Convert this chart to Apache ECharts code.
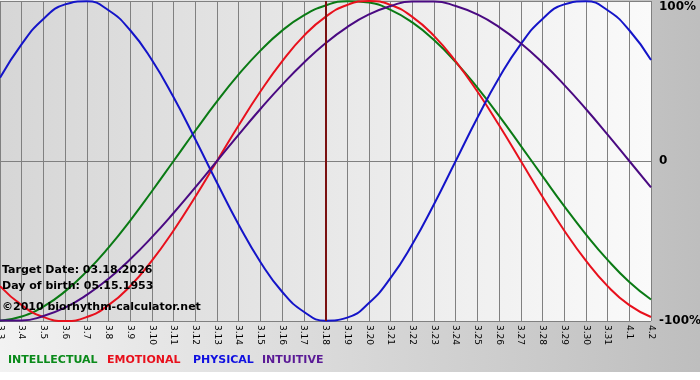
<!DOCTYPE html>
<html>
<head>
<meta charset="utf-8">
<script src="https://cdn.jsdelivr.net/npm/echarts@6/dist/echarts.min.js"></script>
<style>
  html, body { margin: 0; padding: 0; }
  #chart { width: 700px; height: 380px; }
</style>
</head>
<body>
<div id="chart"></div>
<script>
// days shown on the x axis
var days = ['3.3','3.4','3.5','3.6','3.7','3.8','3.9','3.10','3.11','3.12','3.13','3.14','3.15','3.16','3.17','3.18',
    '3.19','3.20','3.21','3.22','3.23','3.24','3.25','3.26','3.27','3.28','3.29','3.30','3.31','4.1','4.2'];

// values, -1 .. 1
var intellectual = [-0.999,-0.972,-0.910,-0.815,-0.690,-0.541,-0.372,-0.189,0.000,0.189,0.372,0.541,0.690,0.815,0.910,0.972,
    0.999,0.990,0.945,0.866,0.756,0.618,0.458,0.282,0.095,-0.095,-0.282,-0.458,-0.618,-0.756,-0.866];
var emotional = [-0.782,-0.901,-0.975,-1.000,-0.975,-0.901,-0.782,-0.623,-0.434,-0.223,0.000,0.223,0.434,0.623,0.782,0.901,
    0.975,1.000,0.975,0.901,0.782,0.623,0.434,0.223,0.000,-0.223,-0.434,-0.623,-0.782,-0.901,-0.975];
var physical = [0.520,0.731,0.888,0.979,0.998,0.942,0.817,0.631,0.398,0.136,-0.136,-0.398,-0.631,-0.817,-0.942,-0.998,
    -0.979,-0.888,-0.731,-0.520,-0.270,0.000,0.270,0.520,0.731,0.888,0.979,0.998,0.942,0.817,0.631];
var intuitive = [-0.997,-0.997,-0.969,-0.916,-0.837,-0.736,-0.614,-0.476,-0.325,-0.165,0.000,0.165,0.325,0.476,0.614,0.736,
    0.837,0.916,0.969,0.997,0.997,0.969,0.916,0.837,0.736,0.614,0.476,0.325,0.165,0.000,-0.165];

var targetDay = '3.18';

var names = ['INTELLECTUAL', 'EMOTIONAL', 'PHYSICAL', 'INTUITIVE'];
var colors = ['#0a7a14', '#e8101c', '#1414c8', '#4a0a82'];
var legendColors = ['#0a8a1a', '#e8101c', '#1010e0', '#5a1a96'];

var font = '"DejaVu Sans", Verdana, sans-serif';

var chart = echarts.init(document.getElementById('chart'));

function lineSeries(i, values) {
    return {
        name: names[i],
        type: 'line',
        data: values,
        smooth: true,
        symbol: 'none',
        silent: true,
        z: 3,
        lineStyle: { color: colors[i], width: 2 }
    };
}

var series = [
    lineSeries(0, intellectual),
    lineSeries(1, emotional),
    lineSeries(2, physical),
    lineSeries(3, intuitive)
];

// target date marker
series[0].markLine = {
    silent: true,
    symbol: 'none',
    label: { show: false },
    lineStyle: { color: '#7a1010', width: 2, type: 'solid' },
    data: [{ xAxis: targetDay }]
};

var option = {
    animation: false,
    backgroundColor: new echarts.graphic.LinearGradient(0, 0, 1, 0, [
        { offset: 0, color: '#f2f2f2' },
        { offset: 1, color: '#bebebe' }
    ]),
    grid: {
        left: 0,
        right: 49,
        top: 1,
        bottom: 59,
        containLabel: false,
        outerBoundsMode: 'none',
        show: true,
        borderWidth: 0,
        backgroundColor: new echarts.graphic.LinearGradient(0, 0, 1, 0, [
            { offset: 0, color: '#d6d6d6' },
            { offset: 1, color: '#fafafa' }
        ])
    },
    xAxis: {
        type: 'category',
        data: days,
        boundaryGap: false,
        axisLine: { show: true, lineStyle: { color: '#808080', width: 1 } },
        axisTick: { show: true, length: 3, interval: 0, lineStyle: { color: '#808080' } },
        splitLine: { show: true, interval: 0, lineStyle: { color: '#808080', width: 1 } },
        axisLabel: {
            interval: 0,
            rotate: -90,
            margin: 4,
            fontSize: 9,
            fontFamily: font,
            color: '#000'
        }
    },
    yAxis: {
        type: 'value',
        position: 'right',
        min: -1,
        max: 1,
        interval: 1,
        axisLine: { show: false },
        axisTick: { show: false },
        splitLine: { show: true, lineStyle: { color: '#808080', width: 1 } },
        axisLabel: {
            margin: 8,
            fontSize: 12,
            fontWeight: 'bold',
            fontFamily: font,
            color: '#000',
            showMinLabel: true,
            showMaxLabel: true,
            formatter: function (v) {
                if (v === 1) return '{top|100%}';
                if (v === -1) return '-100%';
                return '0';
            },
            rich: {
                top: { fontSize: 12, fontWeight: 'bold', fontFamily: font, color: '#000', padding: [12, 0, 0, 0] }
            }
        }
    },
    graphic: [
        { type: 'rect', left: 0, top: 372, shape: { width: 700, height: 8 }, style: { fill: '#ffffff' }, silent: true },
        { type: 'text', left: 2, top: 265, z: 10, style: { text: 'Target Date: 03.18.2026', font: 'bold 11px ' + font, fill: '#000' } },
        { type: 'text', left: 2, top: 281, z: 10, style: { text: 'Day of birth: 05.15.1953', font: 'bold 11px ' + font, fill: '#000' } },
        { type: 'text', left: 2, top: 302, z: 10, style: { text: '\u00a92010 biorhythm-calculator.net', font: 'bold 11px ' + font, fill: '#000' } },
        { type: 'text', left: 8, top: 355, style: { text: names[0], font: 'bold 11px ' + font, fill: legendColors[0] } },
        { type: 'text', left: 107, top: 355, style: { text: names[1], font: 'bold 11px ' + font, fill: legendColors[1] } },
        { type: 'text', left: 193, top: 355, style: { text: names[2], font: 'bold 11px ' + font, fill: legendColors[2] } },
        { type: 'text', left: 262, top: 355, style: { text: names[3], font: 'bold 11px ' + font, fill: legendColors[3] } }
    ],
    series: series
};

chart.setOption(option, true);
</script>
</body>
</html>
